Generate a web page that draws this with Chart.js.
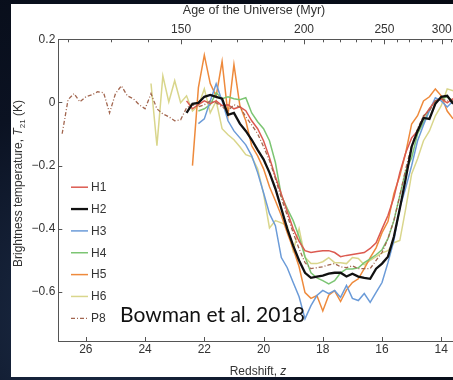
<!DOCTYPE html>
<html>
<head>
<meta charset="utf-8">
<script src="https://cdn.jsdelivr.net/npm/chart.js@4/dist/chart.umd.min.js"></script>
<style>
  html, body { margin: 0; padding: 0; width: 453px; height: 380px; overflow: hidden; }
  body { background: radial-gradient(circle at 20% 85%, #1c2c47 0%, #0b1222 45%, #060a13 100%); }
  #panel { position: absolute; left: 11px; top: 4px; width: 452px; height: 373px; background: #fff; }
</style>
</head>
<body>
<div id="panel"><canvas id="bowman"></canvas></div>
<script>
// redshift grid (z), every series ends at the last value
const redshift = [
  26.8, 26.6, 26.4, 26.2, 26.0, 25.8, 25.6, 25.4, 25.2, 25.0,
  24.8, 24.6, 24.4, 24.2, 24.0, 23.8, 23.6, 23.4, 23.2, 23.0,
  22.8, 22.6, 22.4, 22.2, 22.0, 21.8, 21.6, 21.4, 21.2, 21.0,
  20.8, 20.6, 20.4, 20.2, 20.0, 19.8, 19.6, 19.4, 19.2, 19.0,
  18.8, 18.6, 18.4, 18.2, 18.0, 17.8, 17.6, 17.4, 17.2, 17.0,
  16.8, 16.6, 16.4, 16.2, 16.0, 15.8, 15.6, 15.4, 15.2, 15.0,
  14.8, 14.6, 14.4, 14.2, 14.0, 13.8, 13.6
]

// brightness temperature T21 (K)
const h1 = [ // from z=22.6
  0.005, -0.02, -0.007, 0.005, -0.004, 0.005, -0.01, -0.007, -0.02, -0.014,
  -0.026, -0.058, -0.083, -0.121, -0.175, -0.235, -0.29, -0.345, -0.4, -0.44,
  -0.469, -0.475, -0.472, -0.469, -0.469, -0.475, -0.488, -0.484, -0.481, -0.478,
  -0.475, -0.462, -0.444, -0.4, -0.358, -0.301, -0.222, -0.159, -0.112, -0.09,
  -0.046, -0.02, 0.005, 0.012, -0.001, 0.012
]
const h2 = [ // from z=22.6
  -0.033, -0.004, -0.001, 0.018, 0.024, 0.018, 0.012, -0.039, -0.033, -0.067,
  -0.09, -0.118, -0.15, -0.18, -0.222, -0.273, -0.336, -0.4, -0.453, -0.5,
  -0.539, -0.555, -0.551, -0.548, -0.542, -0.539, -0.539, -0.551, -0.542, -0.551,
  -0.555, -0.558, -0.526, -0.51, -0.488, -0.425, -0.336, -0.241, -0.14, -0.09,
  -0.049, -0.052, -0.004, 0.018, 0.021, -0.004
]
const h3 = [ // from z=22.2
  -0.067, -0.052, 0.005, 0.059, 0.005, -0.058, -0.09, -0.112, -0.134, -0.169,
  -0.222, -0.286, -0.352, -0.39, -0.491, -0.523, -0.57, -0.615, -0.685, -0.643,
  -0.611, -0.595, -0.605, -0.595, -0.617, -0.579, -0.62, -0.627, -0.605, -0.633,
  -0.601, -0.57, -0.507, -0.437, -0.333, -0.27, -0.2, -0.121, -0.071, -0.026,
  0.015, 0.005, -0.014, 0.005
]
const h4 = [ // from z=22.2
  -0.027, -0.02, -0.007, 0.031, 0.012, 0.018, 0.012, 0.009, 0.015, -0.033,
  -0.061, -0.083, -0.121, -0.19, -0.295, -0.336, -0.374, -0.425, -0.488, -0.539,
  -0.555, -0.564, -0.574, -0.564, -0.539, -0.527, -0.527, -0.523, -0.507, -0.495,
  -0.482, -0.466, -0.431, -0.374, -0.295, -0.216, -0.175, -0.099, -0.064, -0.02,
  0.005, 0.012, 0.018, 0.005
]
const h5 = [ // from z=22.4
  -0.2, 0.047, 0.15, 0.06, 0.02, 0.13, -0.04, 0.12, -0.01, -0.058,
  -0.137, -0.169, -0.21, -0.267, -0.311, -0.358, -0.412, -0.463, -0.52, -0.602,
  -0.62, -0.611, -0.66, -0.61, -0.596, -0.63, -0.593, -0.57, -0.558, -0.526,
  -0.491, -0.46, -0.412, -0.377, -0.289, -0.232, -0.159, -0.068, -0.042, 0.005,
  0.018, 0.043, 0.021, -0.027, -0.052
]
const h6 = [ // from z=23.8
  0.06, -0.137, 0.084, 0.002, 0.069, -0.001, 0.021, -0.027, -0.01, 0.043,
  -0.033, 0.005, -0.083, -0.102, -0.118, -0.14, -0.165, -0.172, -0.21, -0.289,
  -0.397, -0.374, -0.381, -0.39, -0.47, -0.4, -0.49, -0.51, -0.51, -0.504,
  -0.491, -0.507, -0.507, -0.51, -0.491, -0.494, -0.514, -0.5, -0.488, -0.476,
  -0.469, -0.444, -0.437, -0.336, -0.226, -0.178, -0.121, -0.09, -0.042, -0.01,
  0.043, 0.037
]
const p8 = [ // from z=26.8
  -0.099, 0.009, 0.028, 0.002, 0.018, 0.024, 0.034, 0.031, -0.033, 0.028,
  0.053, 0.021, 0.012, -0.007, -0.02, 0.028, -0.02, -0.036, -0.045, -0.058,
  -0.055, -0.017, -0.007, -0.014, -0.007, 0.005, -0.001, -0.014, -0.026, -0.007,
  -0.014, -0.045, -0.071, -0.099, -0.14, -0.184, -0.241, -0.302, -0.358, -0.412,
  -0.463, -0.507, -0.526, -0.523, -0.52, -0.514, -0.51, -0.52, -0.523, -0.517,
  -0.526, -0.526, -0.526, -0.5, -0.475, -0.431, -0.374, -0.295, -0.21, -0.137,
  -0.083, -0.042, -0.026, 0.005, 0.012, 0.005, 0.005
]

const redshiftTicks = [26, 24, 22, 20, 18, 16, 14]
const tempTicks = [0.2, 0, -0.2, -0.4, -0.6]
const ageTicks = [120, 130, 140, 150, 160, 170, 180, 190, 200, 210, 220, 230, 240, 250, 260, 270, 280, 290, 300, 310]
const ageLabels = [150, 200, 250, 300]
const ageScale = 17400 // Myr, matter era: t = ageScale * (1+z)^-1.5

const zOfAge = (t) => Math.pow(ageScale / t, 2 / 3) - 1

const toPoints = (values) => {
  const offset = redshift.length - values.length
  return values.map((v, i) => ({ x: redshift[offset + i], y: v }))
}

const font = "'Liberation Sans', Arial, sans-serif"
const textColor = '#333'
const axisColor = '#555'

const inwardTicks = {
  id: 'inwardTicks',
  afterDraw(chart) {
    const { ctx, chartArea: a, scales } = chart
    ctx.save()
    ctx.strokeStyle = axisColor
    ctx.lineWidth = 1
    ctx.beginPath()
    scales.x.ticks.forEach(t => {
      const px = Math.round(scales.x.getPixelForValue(t.value)) + 0.5
      ctx.moveTo(px, a.bottom); ctx.lineTo(px, a.bottom - 4)
    })
    scales.y.ticks.forEach(t => {
      const py = Math.round(scales.y.getPixelForValue(t.value)) + 0.5
      ctx.moveTo(a.left, py); ctx.lineTo(a.left + 4, py)
    })
    scales.x2.ticks.forEach((t, i) => {
      const px = Math.round(scales.x2.getPixelForValue(t.value)) + 0.5
      const len = ageLabels.includes(ageTicks[i]) ? 5 : 3
      ctx.moveTo(px, a.top); ctx.lineTo(px, a.top + len)
    })
    ctx.stroke()
    ctx.restore()
  }
}

const texts = {
  id: 'texts',
  afterDraw(chart) {
    const { ctx } = chart
    ctx.save()
    ctx.fillStyle = textColor
    ctx.textBaseline = 'alphabetic'

    // top title
    ctx.font = `12.5px ${font}`
    ctx.textAlign = 'center'
    ctx.fillText('Age of the Universe (Myr)', 243, 9.5)

    const drawPieces = (pieces, cx, cy) => {
      let total = 0
      pieces.forEach(p => { ctx.font = p.f; total += ctx.measureText(p.s).width })
      let x = cx - total / 2
      ctx.textAlign = 'left'
      pieces.forEach(p => {
        ctx.font = p.f
        ctx.fillText(p.s, x, cy + (p.dy || 0))
        x += ctx.measureText(p.s).width
      })
    }
    // bottom title, z in italics
    drawPieces([
      { s: 'Redshift, ', f: `12px ${font}` },
      { s: 'z', f: `italic 12px ${font}` }
    ], 247, 371)

    // y title, rotated
    ctx.save()
    ctx.translate(10.5, 179.5)
    ctx.rotate(-Math.PI / 2)
    drawPieces([
      { s: 'Brightness temperature, ', f: `12px ${font}` },
      { s: 'T', f: `italic 12px ${font}` },
      { s: '21', f: `8px ${font}`, dy: 3 },
      { s: ' (K)', f: `12px ${font}` }
    ], 0, 0)
    ctx.restore()

    // legend
    chart.data.datasets.forEach((ds, i) => {
      const y = 183.2 + i * 21.85
      ctx.save()
      ctx.strokeStyle = ds.borderColor
      ctx.lineWidth = ds.borderWidth
      ctx.setLineDash(ds.borderDash || [])
      ctx.beginPath()
      ctx.moveTo(60, y); ctx.lineTo(77, y)
      ctx.stroke()
      ctx.restore()
      ctx.font = `12px ${font}`
      ctx.textAlign = 'left'
      ctx.textBaseline = 'middle'
      ctx.fillText(ds.label, 80, y + 0.5)
    })

    // credit
    ctx.fillStyle = '#111'
    ctx.textBaseline = 'alphabetic'
    ctx.font = "21px Lato, 'Open Sans', sans-serif"
    ctx.fillText('Bowman et al. 2018', 109, 318)
    ctx.restore()
  }
}

const tickFont = { family: font, size: 12 }

new Chart(document.getElementById('bowman'), {
  type: 'line',
  data: {
    datasets: [
      { label: 'H1', data: toPoints(h1), borderColor: '#dc5a50', borderWidth: 1.5, order: 2 },
      { label: 'H2', data: toPoints(h2), borderColor: '#111111', borderWidth: 2.3, order: 0 },
      { label: 'H3', data: toPoints(h3), borderColor: '#6b9bd8', borderWidth: 1.5, order: 3 },
      { label: 'H4', data: toPoints(h4), borderColor: '#7cc573', borderWidth: 1.5, order: 4 },
      { label: 'H5', data: toPoints(h5), borderColor: '#ee8a3c', borderWidth: 1.5, order: 5 },
      { label: 'H6', data: toPoints(h6), borderColor: '#d9d68c', borderWidth: 1.5, order: 6 },
      { label: 'P8', data: toPoints(p8), borderColor: '#a2664f', borderWidth: 1.3, borderDash: [4, 2, 1, 2], order: 1 }
    ]
  },
  options: {
    animation: false,
    responsive: true,
    maintainAspectRatio: false,
    layout: { padding: { left: 0, right: 1, top: 0, bottom: 0 } },
    elements: { point: { radius: 0 }, line: { tension: 0, fill: false } },
    plugins: { legend: { display: false }, tooltip: { enabled: false } },
    scales: {
      x: {
        type: 'linear', position: 'bottom', reverse: true, min: 13.3, max: 26.93,
        grid: { display: false, drawTicks: false },
        border: { display: true, color: axisColor, width: 1 },
        afterBuildTicks: (s) => { s.ticks = redshiftTicks.map(v => ({ value: v })) },
        afterFit: (s) => { s.height = 36 },
        ticks: { font: tickFont, color: textColor, padding: 1, maxRotation: 0, autoSkip: false,
          callback: (v) => String(v) }
      },
      x2: {
        type: 'linear', position: 'top', reverse: true, min: 13.3, max: 26.93,
        grid: { display: false, drawTicks: false },
        border: { display: true, color: axisColor, width: 1 },
        afterBuildTicks: (s) => { s.ticks = ageTicks.map(t => ({ value: zOfAge(t) })) },
        afterFit: (s) => { s.height = 35.3 },
        ticks: { font: tickFont, color: textColor, padding: 2, maxRotation: 0, autoSkip: false,
          callback: (v, i) => ageLabels.includes(ageTicks[i]) ? String(ageTicks[i]) : '' }
      },
      y: {
        type: 'linear', min: -0.755, max: 0.2,
        grid: { display: false, drawTicks: false },
        border: { display: true, color: axisColor, width: 1 },
        afterBuildTicks: (s) => { s.ticks = tempTicks.map(v => ({ value: v })) },
        afterFit: (s) => { s.width = 47.3 },
        ticks: { font: tickFont, color: textColor, padding: 3,
          callback: (v) => v === 0 ? '0' : v.toFixed(1).replace('-', '\u2212') }
      }
    }
  },
  plugins: [inwardTicks, texts]
})
</script>
</body>
</html>
